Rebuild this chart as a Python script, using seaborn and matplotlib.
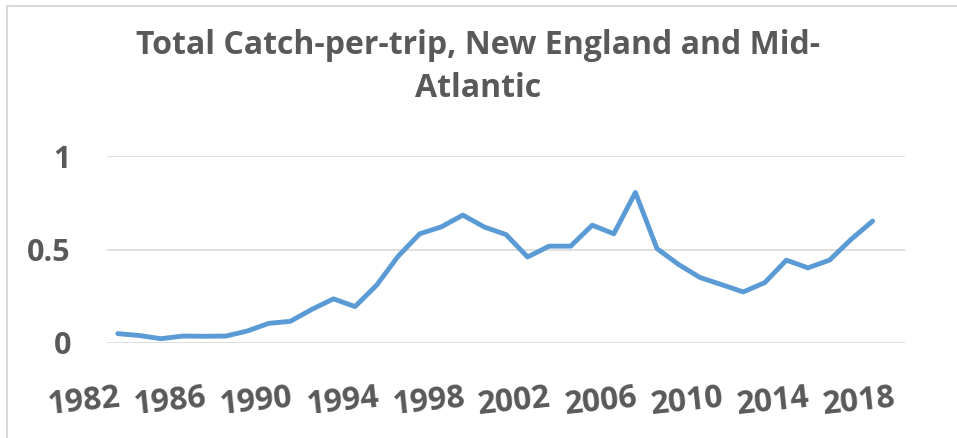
import matplotlib
matplotlib.use("Agg")
import matplotlib.pyplot as plt
import seaborn as sns
import pandas as pd
import numpy as np
from matplotlib.patches import Rectangle

years = list(range(1982, 2019))
catch_per_trip = [0.050, 0.040, 0.023, 0.037, 0.036, 0.037, 0.064, 0.105, 0.116,
                  0.180, 0.236, 0.195, 0.309, 0.464, 0.584, 0.621, 0.684, 0.620,
                  0.580, 0.460, 0.518, 0.518, 0.630, 0.584, 0.805, 0.505, 0.420,
                  0.350, 0.312, 0.273, 0.323, 0.443, 0.402, 0.443, 0.554, 0.652,
                  np.nan]
tick_years = list(range(1982, 2019, 4))
y_ticks = [0, 0.5, 1]
y_tick_labels = ["0", "0.5", "1"]
title = "Total Catch-per-trip, New England and Mid-\nAtlantic"

sns.set_style("white")
plt.rcParams["font.family"] = ["Open Sans", "DejaVu Sans"]

df = pd.DataFrame({"pos": np.arange(len(years)), "year": years, "value": catch_per_trip})

fig = plt.figure(figsize=(9.57, 4.38), dpi=100)
W, H = 957, 438
ax = fig.add_axes([107 / W, 1 - 343 / H, (905 - 107) / W, (343 - 156) / H])

sns.lineplot(data=df, x="pos", y="value", ax=ax, color="#5B9BD5", linewidth=3.5,
             solid_capstyle="round", solid_joinstyle="round", zorder=3)

ax.set_xlim(-0.5, len(years) - 0.5)
ax.set_ylim(0, 1)
ax.set_yticks(y_ticks)
ax.set_yticklabels(y_tick_labels)
ax.set_xticks([years.index(y) for y in tick_years])
ax.set_xticklabels([str(y) for y in tick_years])
ax.grid(axis="y", color="#D9D9D9", linewidth=1.2)
ax.grid(axis="x", visible=False)
for s in ax.spines.values():
    s.set_visible(False)
ax.set_xlabel("")
ax.set_ylabel("")
ax.tick_params(axis="both", length=0)
for lab in ax.get_yticklabels():
    lab.set_fontsize(22)
    lab.set_fontweight("bold")
    lab.set_color("#595959")
ax.tick_params(axis="y", pad=26)
for lab in ax.get_xticklabels():
    lab.set_fontsize(23)
    lab.set_fontweight("bold")
    lab.set_color("#595959")
    lab.set_rotation(6)
    lab.set_ha("right")
    lab.set_rotation_mode("anchor")
ax.tick_params(axis="x", pad=28)

fig.text(0.5, 1 - 67 / H, title, ha="center", va="center", fontsize=23,
         fontweight="bold", color="#595959", linespacing=1.4)

fig.patches.append(Rectangle((6.5 / W, -0.1), 1.2, 1 - 5.5 / H + 0.1,
                             transform=fig.transFigure, fill=False,
                             edgecolor="#D9D9D9", linewidth=1.5))

fig.savefig("out.png", dpi=100)
